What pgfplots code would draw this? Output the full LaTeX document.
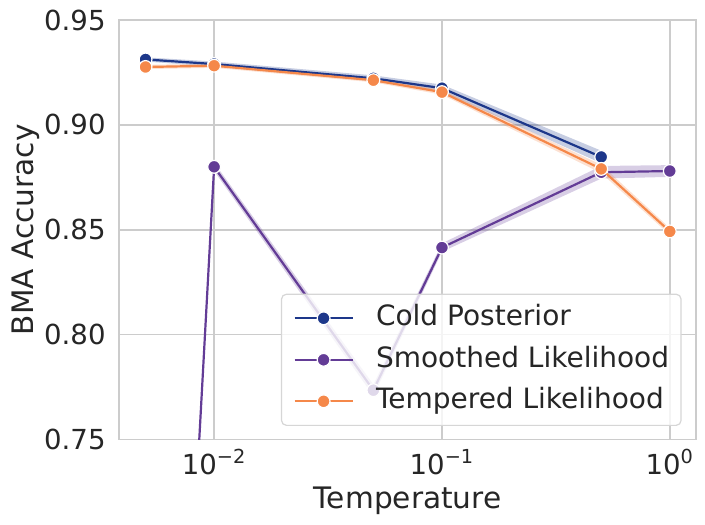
\documentclass[border=0pt]{standalone}
\usepackage{fontspec}
\setmainfont{DejaVu Sans}
\usepackage{pgfplots}
\usepackage{pgfplotstable}
\pgfplotsset{compat=1.18}
\usepgfplotslibrary{fillbetween}
\definecolor{coldc}{HTML}{1D378A}
\definecolor{smoothc}{HTML}{633C96}
\definecolor{tempc}{HTML}{F5884A}
\definecolor{gridc}{HTML}{CCCCCC}
\definecolor{legc}{HTML}{D6D6D6}
\definecolor{textc}{HTML}{262626}

\pgfplotstableread{
x y lo hi
0.005 0.9312 0.9302 0.9322
0.01 0.9290 0.9278 0.9302
0.05 0.9222 0.9208 0.9236
0.1 0.9175 0.9158 0.9192
0.5 0.8847 0.8817 0.8877
}\cold

\pgfplotstableread{
x y lo hi
0.005 0.2800 0.2650 0.2950
0.01 0.8800 0.8780 0.8820
0.05 0.7735 0.7708 0.7762
0.1 0.8415 0.8395 0.8435
0.5 0.8774 0.8744 0.8804
1.0 0.8780 0.8752 0.8808
}\smooth

\pgfplotstableread{
x y lo hi
0.005 0.9276 0.9266 0.9286
0.01 0.9282 0.9272 0.9292
0.05 0.9213 0.9203 0.9223
0.1 0.9156 0.9144 0.9168
0.5 0.8790 0.8770 0.8810
1.0 0.8492 0.8476 0.8508
}\temp

\begin{document}
\begin{tikzpicture}
\begin{axis}[
  scale only axis,
  width=288.35pt, height=209.75pt,
  xmode=log,
  xmin=0.003836, xmax=1.3032,
  ymin=0.75, ymax=0.95,
  xtick={0.01,0.1,1},
  xticklabels={{10\textsuperscript{−2}},{10\textsuperscript{−1}},{10\textsuperscript{0}}},
  minor xtick={},
  ytick={0.75,0.80,0.85,0.90,0.95},
  /pgf/number format/assume math mode=true,
  yticklabel style={/pgf/number format/fixed, /pgf/number format/fixed zerofill, /pgf/number format/precision=2},
  grid=major,
  major grid style={draw=gridc, line width=0.8pt},
  axis line style={draw=gridc, line width=0.8pt},
  major tick length=0pt, minor tick length=0pt,
  tick label style={font=\fontsize{13.8}{16}\selectfont, text=textc},
  xticklabel style={anchor=base, yshift=-17.4pt, inner sep=0pt},
  yticklabel style={anchor=east, xshift=-6.65pt, inner sep=0pt},
  xlabel={Temperature}, ylabel={BMA Accuracy},
  label style={font=\fontsize{14.8}{17}\selectfont, text=textc},
  xlabel style={at={(axis description cs:0.5,0)}, anchor=base, yshift=-34.4pt, inner sep=0pt},
  ylabel style={at={(axis description cs:-0.1491,0.5)}, anchor=base, inner sep=0pt},
  clip marker paths=true,
  legend cell align=left,
  legend image code/.code={\draw[mark repeat=2,mark phase=2] plot coordinates {(0pt,0pt) (14.5pt,0pt) (29pt,0pt)}; \path (40.15pt,0pt);},
  legend image post style={fill opacity=1},
  legend style={at={(axis description cs:1,0)}, anchor=south east, xshift=-7.15pt, yshift=6.75pt,
    draw=legc, line width=0.6pt, rounded corners=2.5pt, fill=white, fill opacity=0.8, draw opacity=1, text opacity=1,
    font=\fontsize{14}{16}\selectfont, text=textc,
    inner xsep=6pt, inner ysep=5.5pt, row sep=7.65pt,
    nodes={inner sep=0pt, text height=10.2pt, text depth=2.9pt}},
  every axis plot/.append style={line width=1.1pt},
]
% Cold posterior
\addplot[draw=none, name path=cu, forget plot] table[x=x,y=hi]{\cold};
\addplot[draw=none, name path=cl, forget plot] table[x=x,y=lo]{\cold};
\addplot[fill=coldc, fill opacity=0.25, draw=none, forget plot] fill between[of=cu and cl];
\addplot[color=coldc, mark=*, mark size=3.2pt, mark options={fill=coldc, draw=white, line width=0.6pt}] table[x=x,y=y]{\cold};
\addlegendentry{Cold Posterior}
% Smoothed likelihood
\addplot[draw=none, name path=su, forget plot] table[x=x,y=hi]{\smooth};
\addplot[draw=none, name path=sl, forget plot] table[x=x,y=lo]{\smooth};
\addplot[fill=smoothc, fill opacity=0.25, draw=none, forget plot] fill between[of=su and sl];
\addplot[color=smoothc, mark=*, mark size=3.2pt, mark options={fill=smoothc, draw=white, line width=0.6pt}] table[x=x,y=y]{\smooth};
\addlegendentry{Smoothed Likelihood}
% Tempered likelihood
\addplot[draw=none, name path=tu, forget plot] table[x=x,y=hi]{\temp};
\addplot[draw=none, name path=tl, forget plot] table[x=x,y=lo]{\temp};
\addplot[fill=tempc, fill opacity=0.25, draw=none, forget plot] fill between[of=tu and tl];
\addplot[color=tempc, mark=*, mark size=3.2pt, mark options={fill=tempc, draw=white, line width=0.6pt}] table[x=x,y=y]{\temp};
\addlegendentry{Tempered Likelihood}
\end{axis}
\pgfresetboundingbox
\path[use as bounding box] ([shift={(-59.65pt,-42.75pt)}]current axis.south west) rectangle ([shift={(4.5pt,10pt)}]current axis.north east);
\end{tikzpicture}
\end{document}
